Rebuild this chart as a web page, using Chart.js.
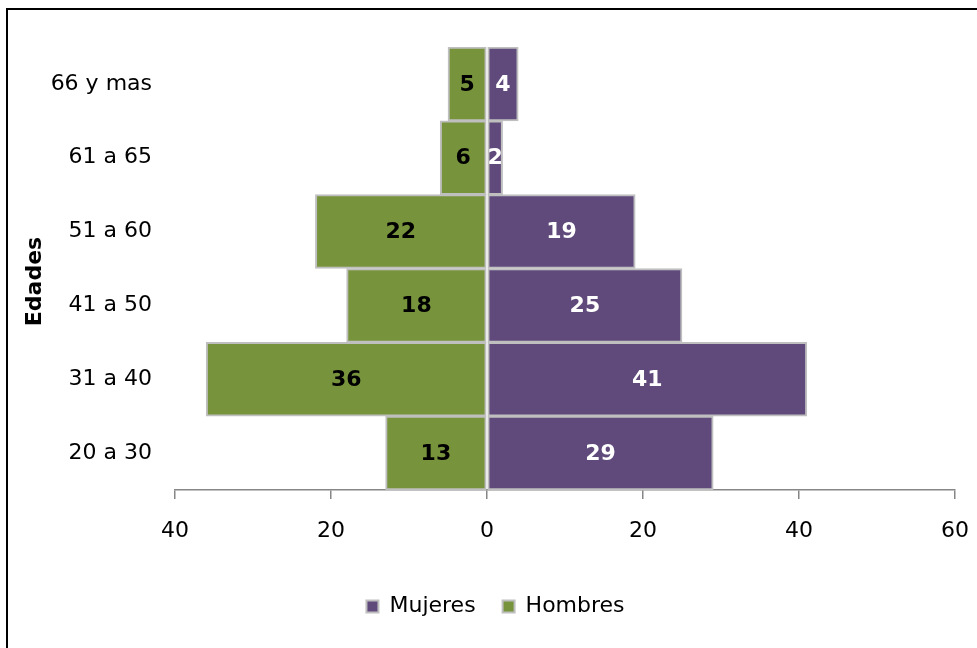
<!DOCTYPE html>
<html>
<head>
<meta charset="utf-8">
<script src="https://cdn.jsdelivr.net/npm/chart.js@4"></script>
<style>
  html, body { margin: 0; padding: 0; background: #fff; overflow: hidden; }
  #frame {
    position: absolute; left: 6px; top: 8px;
    width: 990px; height: 680px;
    border: 2px solid #000;
  }
  #myChart { position: absolute; left: 0; top: 0; }
</style>
</head>
<body>
<div id="frame"></div>
<canvas id="myChart" width="977" height="648"></canvas>
<script>
// datos
const edades = ['66 y mas', '61 a 65', '51 a 60', '41 a 50', '31 a 40', '20 a 30'];
const mujeres = [4, 2, 19, 25, 41, 29];
const hombres = [5, 6, 22, 18, 36, 13];
const xTicks = [-40, -20, 0, 20, 40, 60];
const tituloY = 'Edades';

const FONT = 'DejaVu Sans, Verdana, sans-serif';

// etiquetas dentro de las barras + titulo del eje (algo mas abajo que el centro)
const barLabels = {
    id: 'barLabels',
    afterLayout(chart) {
        // leyenda un poco a la derecha
        chart.legend.left += 18;
        chart.legend.right += 18;
    },
    afterDatasetsDraw(chart) {
        const ctx = chart.ctx;
        ctx.save();
        ctx.font = 'bold 22px ' + FONT;
        ctx.textAlign = 'center';
        ctx.textBaseline = 'middle';
        chart.data.datasets.forEach((ds, i) => {
            const meta = chart.getDatasetMeta(i);
            meta.data.forEach((bar, j) => {
                const p = bar.getCenterPoint();
                ctx.fillStyle = ds.labelColor;
                ctx.fillText(Math.abs(ds.data[j]), p.x, p.y + 1);
            });
        });
        // titulo "Edades"
        const y = chart.scales.y;
        ctx.translate(35, (y.top + y.bottom) / 2 + 13);
        ctx.rotate(-Math.PI / 2);
        ctx.fillStyle = '#000';
        ctx.fillText(tituloY, 0, 0);
        ctx.restore();
    }
};

const data = {
    labels: edades,
    datasets: [{
        label: 'Mujeres',
        data: mujeres,
        backgroundColor: '#604A7B',
        borderColor: '#BFBFBF',
        borderWidth: 2,
        borderSkipped: false,
        labelColor: '#FFFFFF',
        barPercentage: 1,
        categoryPercentage: 1
    }, {
        label: 'Hombres',
        data: hombres.map(v => -v),
        backgroundColor: '#77933C',
        borderColor: '#BFBFBF',
        borderWidth: 2,
        borderSkipped: false,
        labelColor: '#000000',
        barPercentage: 1,
        categoryPercentage: 1
    }]
};

const config = {
    type: 'bar',
    data: data,
    plugins: [barLabels],
    options: {
        indexAxis: 'y',
        responsive: false,
        animation: false,
        layout: {
            padding: { top: 47, right: 22, bottom: 20.5, left: 0 }
        },
        plugins: {
            legend: {
                position: 'bottom',
                labels: {
                    color: '#000',
                    font: { family: FONT, size: 22 },
                    boxWidth: 12,
                    boxHeight: 12,
                    padding: 27
                }
            },
            tooltip: { enabled: false }
        },
        scales: {
            x: {
                stacked: true,
                min: -40,
                max: 60,
                afterBuildTicks(scale) {
                    scale.ticks = xTicks.map(v => ({ value: v }));
                },
                afterFit(scale) {
                    scale.height = 78.5;
                    scale.paddingLeft = 0;
                    scale.paddingRight = 0;
                },
                grid: {
                    display: true,
                    drawOnChartArea: false,
                    drawTicks: true,
                    tickLength: 9,
                    color: '#868686',
                    lineWidth: 1.5
                },
                border: { display: true, color: '#868686', width: 1.5 },
                ticks: {
                    color: '#000',
                    padding: 19,
                    maxRotation: 0,
                    font: { family: FONT, size: 22 },
                    callback: v => Math.abs(v)
                }
            },
            y: {
                stacked: true,
                afterFit(scale) {
                    scale.width = 175;
                },
                grid: { display: false },
                border: { display: false },
                ticks: {
                    color: '#000',
                    padding: 15,
                    font: { family: FONT, size: 22 }
                }
            }
        }
    }
};

const myChart = new Chart(document.getElementById('myChart'), config);
</script>
</body>
</html>
